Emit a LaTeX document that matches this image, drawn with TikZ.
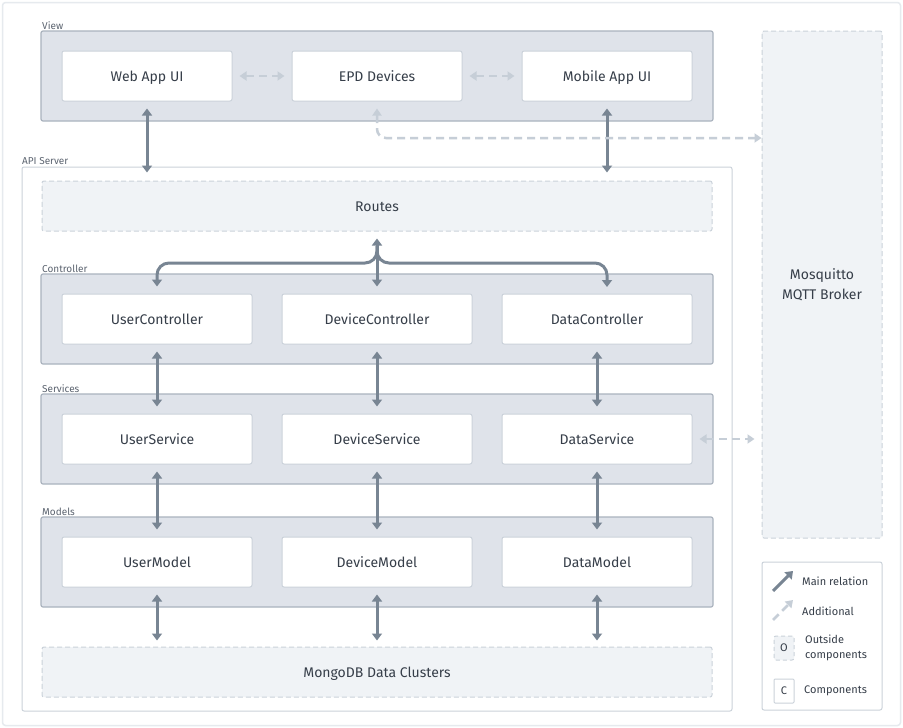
\documentclass[tikz,border=0pt]{standalone}
\usepackage{fontspec}
\setmainfont{Fira Sans}
\usetikzlibrary{arrows.meta}
\definecolor{txt}{HTML}{363E49}
\definecolor{lbl}{HTML}{5C6470}
\definecolor{contf}{HTML}{DFE3EA}
\definecolor{contb}{HTML}{AAB3BE}
\definecolor{compb}{HTML}{CBD2DA}
\definecolor{outf}{HTML}{F0F3F6}
\definecolor{mainc}{HTML}{788593}
\definecolor{addc}{HTML}{C6CED7}
\definecolor{frame}{HTML}{E6EAEE}
\begin{document}
\begin{tikzpicture}[x=1pt,y=-1pt,
  container/.style={draw=contb, fill=contf, line width=1.2pt, rounded corners=2pt, inner sep=0pt},
  comp/.style={draw=compb, fill=white, line width=1pt, rounded corners=2pt, minimum width=170pt, minimum height=50pt, inner sep=0pt, font=\fontsize{14}{16}\selectfont, text=txt, text height=11.4pt, text depth=0pt},
  wcomp/.style={comp, minimum width=190pt},
  outside/.style={draw=compb, dash pattern=on 5pt off 3pt, fill=outf, line width=1pt, rounded corners=2pt, inner sep=0pt, font=\fontsize{14}{16}\selectfont, text=txt},
  grplbl/.style={font=\fontsize{10}{12}\selectfont, text=lbl, anchor=south west, inner sep=0pt},
  mainboth/.style={draw=mainc, line width=3pt, {Triangle[width=10pt,length=7pt]}-{Triangle[width=10pt,length=7pt]}},
  mainone/.style={draw=mainc, line width=3pt, -{Triangle[width=10pt,length=7pt]}},
  addboth/.style={draw=addc, line width=2.5pt, dash pattern=on 8pt off 5pt, {Triangle[width=9pt,length=7pt]}-{Triangle[width=9pt,length=7pt]}},
  legtxt/.style={font=\fontsize{11}{15}\selectfont, text=txt, anchor=west, inner sep=0pt, align=left}
]
\useasboundingbox (0,0) rectangle (903,728);
\fill[white] (0,0) rectangle (903,728);
\draw[frame, line width=1.5pt, rounded corners=3pt] (2.5,2.5) rectangle (900.5,725.5);

% View
\node[grplbl] (viewlbl) at (42,30) {View};
\node[container, minimum width=672pt, minimum height=90pt] (view) at (377,76) {};
\node[comp] (wa) at (147,76) {Web App UI};
\node[comp] (epd) at (377,76) {EPD Devices};
\node[comp] (ma) at (607,76) {Mobile App UI};

% MQTT
\node[outside, minimum width=120pt, minimum height=507pt, align=center, font=\fontsize{14}{20}\selectfont] (mqtt) at (822,284.5) {Mosquitto\\MQTT Broker};

% API server
\node[grplbl] (apilbl) at (22,165) {API Server};
\node[draw=compb, fill=white, line width=1pt, rounded corners=2pt, minimum width=710pt, minimum height=544pt, inner sep=0pt] (api) at (377,439) {};
\node[outside, minimum width=670pt, minimum height=50pt, text height=11.4pt, text depth=0pt] (routes) at (377,206) {Routes};

% Controller
\node[grplbl] (ctrllbl) at (42,273) {Controller};
\node[container, minimum width=672pt, minimum height=90pt] (ctrl) at (377,319) {};
\node[wcomp] (uc) at (157,319) {UserController};
\node[wcomp] (dvc) at (377,319) {DeviceController};
\node[wcomp] (dac) at (597,319) {DataController};

% Services
\node[grplbl] (svclbl) at (42,393) {Services};
\node[container, minimum width=672pt, minimum height=90pt] (svc) at (377,439) {};
\node[wcomp] (us) at (157,439) {UserService};
\node[wcomp] (dvs) at (377,439) {DeviceService};
\node[wcomp] (das) at (597,439) {DataService};

% Models
\node[grplbl] (mdllbl) at (42,516) {Models};
\node[container, minimum width=672pt, minimum height=90pt] (mdl) at (377,562) {};
\node[wcomp] (um) at (157,562) {UserModel};
\node[wcomp] (dvm) at (377,562) {DeviceModel};
\node[wcomp] (dam) at (597,562) {DataModel};

% MongoDB
\node[outside, minimum width=670pt, minimum height=50pt, text height=11.4pt, text depth=0pt] (mongo) at (377,672) {MongoDB Data Clusters};

% View arrows
\draw[addboth] ([xshift=7pt]wa.east) -- ([xshift=-7pt]epd.west);
\draw[addboth] ([xshift=7pt]epd.east) -- ([xshift=-7pt]ma.west);
\draw[mainboth] ([yshift=-7pt]wa.south) -- ([yshift=-6pt]wa.south |- api.north);
\draw[mainboth] ([yshift=-7pt]ma.south) -- ([yshift=-6pt]ma.south |- api.north);
\coordinate (epdturn) at (377,138);
\draw[addc, line width=2.5pt, dash pattern=on 8pt off 5pt, rounded corners=9pt, {Triangle[width=9pt,length=7pt]}-{Triangle[width=9pt,length=7pt]}] ([yshift=-7pt]epd.south) -- (epd.south |- epdturn) -- (mqtt.west |- epdturn);

% Fork routes -> controllers
\coordinate (fork) at (377,263);
\coordinate (rtgt) at (607,287);
\draw[mainboth] ([yshift=-7pt]routes.south) -- ([yshift=7pt]dvc.north);
\draw[mainone, rounded corners=12pt] (377,246) |- (uc.north |- fork) -- ([yshift=7pt]uc.north);
\draw[mainone, rounded corners=12pt] (377,246) |- (rtgt |- fork) -- (rtgt);

% Controller <-> Services <-> Models <-> Mongo
\foreach \a/\b in {uc/us,dvc/dvs,dac/das,us/um,dvs/dvm,das/dam}{
  \draw[mainboth] ([yshift=-7pt]\a.south) -- ([yshift=7pt]\b.north);
}
\foreach \a in {um,dvm,dam}{
  \draw[mainboth] ([yshift=-7pt]\a.south) -- ([yshift=6pt]\a.south |- mongo.north);
}
\draw[addboth] ([xshift=7pt]das.east) -- ([xshift=-7pt]mqtt.west |- das.east);

% Legend
\node[draw=compb, fill=white, line width=1pt, rounded corners=2pt, minimum width=120pt, minimum height=148pt, inner sep=0pt] (legend) at (822,636) {};
\coordinate (l1a) at (773,591); \coordinate (l1b) at (793,571);
\draw[draw=mainc, line width=3pt, -{Triangle[width=10pt,length=7pt]}] (l1a) -- (l1b);
\node[legtxt] (l1t) at (802,581) {Main relation};
\coordinate (l2a) at (773,620); \coordinate (l2b) at (793,600);
\draw[draw=addc, line width=2.5pt, dash pattern=on 8pt off 5pt, -{Triangle[width=9pt,length=7pt]}] (l2a) -- (l2b);
\node[legtxt] (l2t) at (802,611) {Additional};
\node[outside, minimum width=20pt, minimum height=24pt, font=\fontsize{11}{13}\selectfont, dash pattern=on 4pt off 3pt] (l3b) at (784,648) {O};
\node[legtxt] (l3t) at (805,648) {Outside\\components};
\node[draw=compb, fill=white, line width=1pt, rounded corners=1pt, minimum width=20pt, minimum height=24pt, inner sep=0pt, font=\fontsize{11}{13}\selectfont, text=txt] (l4b) at (784,691) {C};
\node[legtxt] (l4t) at (804,691) {Components};
\end{tikzpicture}
\end{document}
